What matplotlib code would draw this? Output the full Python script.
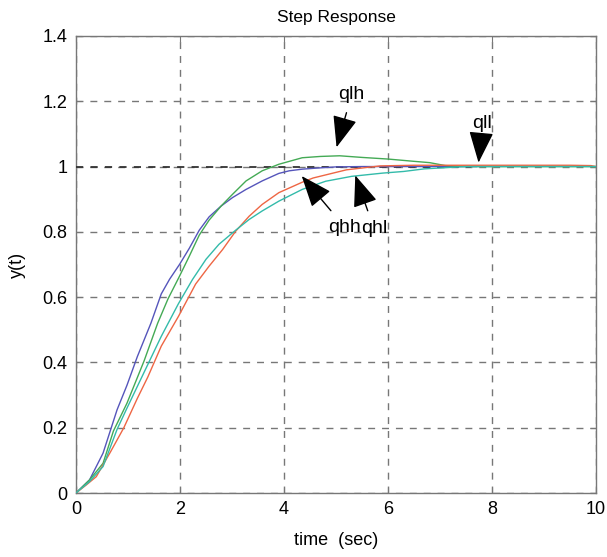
import matplotlib
matplotlib.use("Agg")
import matplotlib.pyplot as plt

plt.rcParams['font.family'] = ['Liberation Sans', 'DejaVu Sans']

# data
t_qhh = [0, 0.26, 0.52, 0.79, 0.98, 1.18, 1.44, 1.64, 1.80, 1.99, 2.18, 2.37, 2.56, 2.79, 3.01, 3.27, 3.58, 3.9, 4.1, 4.35, 4.6, 5.0, 5.5, 6.0, 7.0, 7.7]
y_qhh = [0, 0.04, 0.122, 0.255, 0.33, 0.418, 0.52, 0.61, 0.655, 0.7, 0.75, 0.805, 0.846, 0.879, 0.905, 0.93, 0.956, 0.979, 0.987, 0.992, 0.995, 0.999, 1.0, 1.0, 1.0, 1.0]

t_qlh = [0, 0.26, 0.52, 0.72, 0.98, 1.31, 1.57, 1.77, 1.99, 2.18, 2.37, 2.56, 2.79, 3.01, 3.27, 3.58, 3.9, 4.35, 4.7, 5.07, 5.5, 6.0, 6.5, 6.8, 7.1, 7.5, 8.0, 9.0, 10.0]
y_qlh = [0, 0.04, 0.091, 0.19, 0.275, 0.405, 0.52, 0.595, 0.664, 0.726, 0.79, 0.836, 0.879, 0.915, 0.956, 0.987, 1.007, 1.027, 1.031, 1.033, 1.028, 1.023, 1.016, 1.012, 1.003, 1.0, 1.0, 1.0, 1.0]

t_qhl = [0, 0.26, 0.52, 0.79, 0.98, 1.31, 1.64, 1.97, 2.24, 2.5, 2.75, 3.07, 3.33, 3.58, 3.9, 4.35, 4.8, 5.3, 5.9, 6.3, 6.7, 7.5, 8.0, 9.0, 10.0]
y_qhl = [0, 0.035, 0.081, 0.195, 0.26, 0.37, 0.48, 0.58, 0.654, 0.716, 0.762, 0.805, 0.838, 0.864, 0.894, 0.93, 0.955, 0.97, 0.98, 0.985, 0.993, 1.0, 1.0, 1.0, 1.0]

t_qll = [0, 0.2, 0.39, 0.66, 0.92, 1.18, 1.38, 1.64, 1.97, 2.3, 2.56, 2.82, 3.07, 3.33, 3.58, 3.9, 4.35, 4.56, 5.2, 5.85, 6.5, 7.5, 8.5, 9.5, 9.9, 10.0]
y_qll = [0, 0.025, 0.05, 0.125, 0.2, 0.29, 0.355, 0.45, 0.541, 0.64, 0.695, 0.746, 0.802, 0.848, 0.884, 0.92, 0.952, 0.965, 0.99, 1.002, 1.004, 1.004, 1.004, 1.004, 1.003, 1.0]

steady_t = [0, 7.6]
steady_y = [1.0, 1.0]

x_ticks = [0, 2, 4, 6, 8, 10]
y_ticks = [0, 0.2, 0.4, 0.6, 0.8, 1.0, 1.2, 1.4]
y_ticklabels = ['0', '0.2', '0.4', '0.6', '0.8', '1', '1.2', '1.4']

# annotations: label, text position, arrow tip
ann_labels = ['qlh', 'qll', 'qhh', 'qhl']
ann_text = [(5.3, 1.22), (7.81, 1.133), (5.17, 0.814), (5.73, 0.81)]
ann_tip = [(5.01, 1.059), (7.74, 1.012), (4.34, 0.971), (5.37, 0.973)]

fig = plt.figure(figsize=(6.07, 5.57), dpi=100)
ax = fig.add_axes([0.1252, 0.1149, 0.8568, 0.8205])

ax.plot(steady_t, steady_y, color='#333333', lw=1.3, ls=(0, (4, 4)), zorder=3)
ax.plot(t_qhh, y_qhh, color='#5555bb', lw=1.0, zorder=4)
ax.plot(t_qlh, y_qlh, color='#44aa55', lw=1.0, zorder=4)
ax.plot(t_qll, y_qll, color='#ee6644', lw=1.0, zorder=4)
ax.plot(t_qhl, y_qhl, color='#33bbaa', lw=1.0, zorder=4)

for lab, (tx, ty), (px, py) in zip(ann_labels, ann_text, ann_tip):
    ax.annotate(lab, xy=(px, py), xytext=(tx, ty), fontsize=14, ha='center', va='center',
                arrowprops=dict(arrowstyle='-|>,head_length=1.4,head_width=0.55', color='black',
                                lw=1.0, shrinkA=5, shrinkB=0), zorder=6)

ax.set_xlim(0, 10)
ax.set_ylim(0, 1.4)
ax.set_xticks(x_ticks)
ax.set_yticks(y_ticks)
ax.set_yticklabels(y_ticklabels)
ax.grid(True, color='#777777', ls=(0, (5, 5)), lw=1.0)
ax.tick_params(direction='in', length=4, labelsize=13, color='#777777', top=True, right=True, pad=6)
for s in ax.spines.values():
    s.set_color('#777777')
    s.set_linewidth(1.0)

ax.set_title('Step Response', fontsize=12.5, pad=10)
ax.set_xlabel('time  (sec)', fontsize=13, labelpad=10)
ax.set_ylabel('y(t)', fontsize=13, labelpad=12)

fig.savefig('out.png', dpi=100)
